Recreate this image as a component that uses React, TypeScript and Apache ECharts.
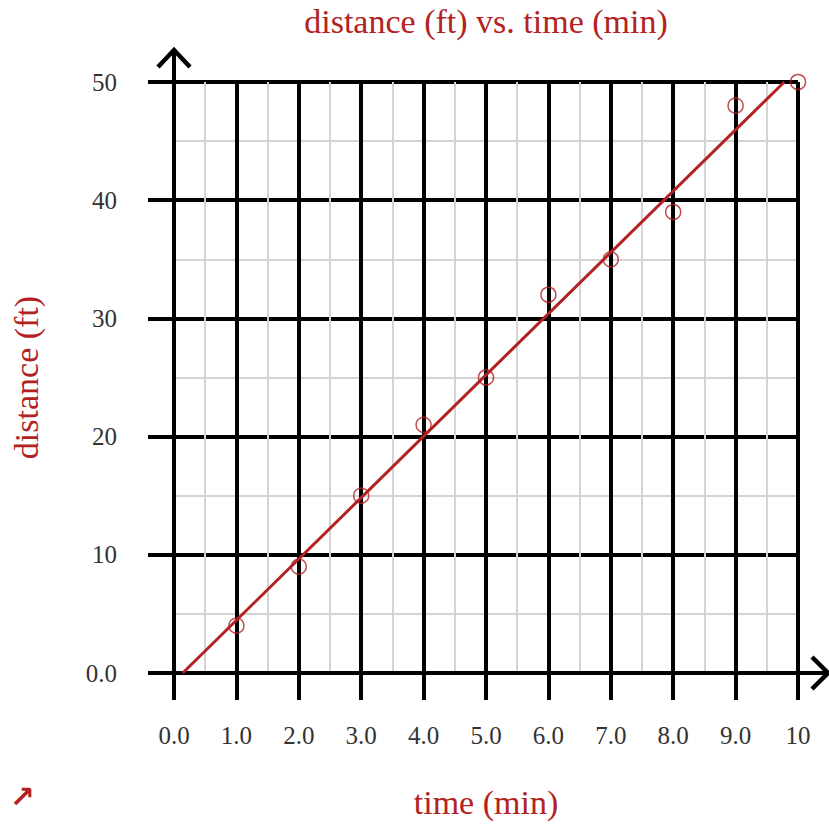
import React, { useEffect, useRef } from "react";
import * as echarts from "echarts";

const timeMin = [1, 2, 3, 4, 5, 6, 7, 8, 9, 10];
const distanceFt = [4, 9, 15, 21, 25, 32, 35, 39, 48, 50];
const fitLine = [
  [0.14, 0],
  [9.78, 50],
];
const xTickLabels = ["0.0", "1.0", "2.0", "3.0", "4.0", "5.0", "6.0", "7.0", "8.0", "9.0", "10"];
const yTickLabels = ["0.0", "10", "20", "30", "40", "50"];

const RED = "#b22222";
const FONT = "'Liberation Serif', 'Times New Roman', serif";

export default function App() {
  const ref = useRef<HTMLDivElement>(null);
  useEffect(() => {
    document.body.style.margin = "0";
    if (!ref.current) return;
    const chart = echarts.init(ref.current, undefined, { renderer: "svg" });
    const axisBlack = { color: "#000", width: 4 };
    chart.setOption({
      animation: false,
      backgroundColor: "#fff",
      grid: { left: 174, right: 31, top: 82, bottom: 151, containLabel: false },
      xAxis: {
        type: "value",
        min: 0,
        max: 10,
        interval: 1,
        name: "time (min)",
        nameLocation: "middle",
        nameGap: 112,
        nameTextStyle: { color: RED, fontSize: 34, fontFamily: FONT },
        axisLine: { show: true, lineStyle: axisBlack },
        axisTick: { show: true, length: 27, lineStyle: axisBlack },
        axisLabel: {
          margin: 50,
          color: "#333",
          fontSize: 25,
          fontFamily: FONT,
          formatter: (v: number) => xTickLabels[Math.round(v)] ?? String(v),
        },
        splitLine: { show: true, lineStyle: axisBlack },
        minorTick: { show: false, splitNumber: 2 },
        minorSplitLine: { show: true, lineStyle: { color: "#d3d3d3", width: 2 } },
      },
      yAxis: {
        type: "value",
        min: 0,
        max: 50,
        interval: 10,
        name: "distance (ft)",
        nameLocation: "middle",
        nameGap: 131,
        nameTextStyle: { color: RED, fontSize: 34, fontFamily: FONT },
        axisLine: { show: true, lineStyle: axisBlack },
        axisTick: { show: true, length: 26, lineStyle: axisBlack },
        axisLabel: {
          margin: 57,
          color: "#333",
          fontSize: 25,
          fontFamily: FONT,
          formatter: (v: number) => yTickLabels[Math.round(v / 10)] ?? String(v),
        },
        splitLine: { show: true, lineStyle: axisBlack },
        minorTick: { show: false, splitNumber: 2 },
        minorSplitLine: { show: true, lineStyle: { color: "#d3d3d3", width: 2 } },
      },
      series: [
        {
          type: "line",
          data: fitLine,
          showSymbol: false,
          symbol: "none",
          lineStyle: { color: RED, width: 3 },
          z: 3,
        },
        {
          type: "scatter",
          data: timeMin.map((t, i) => [t, distanceFt[i]]),
          symbol: "circle",
          symbolSize: 15,
          itemStyle: { color: "rgba(0,0,0,0)", borderColor: RED, borderWidth: 1.5 },
          z: 4,
        },
      ],
    });

    const o = chart.convertToPixel({ gridIndex: 0 }, [0, 0]) as number[];
    const top = chart.convertToPixel({ gridIndex: 0 }, [0, 50]) as number[];
    const right = chart.convertToPixel({ gridIndex: 0 }, [10, 0]) as number[];
    const yTip = top[1] - 32;
    const xTip = right[0] + 30;
    chart.setOption({
      graphic: [
        {
          type: "line",
          shape: { x1: o[0], y1: top[1], x2: o[0], y2: yTip },
          style: { stroke: "#000", lineWidth: 4 },
        },
        {
          type: "polyline",
          shape: { points: [[o[0] - 16, yTip + 17], [o[0], yTip], [o[0] + 16, yTip + 17]] },
          style: { stroke: "#000", lineWidth: 4.5, fill: "none" },
        },
        {
          type: "line",
          shape: { x1: right[0], y1: o[1], x2: xTip, y2: o[1] },
          style: { stroke: "#000", lineWidth: 4 },
        },
        {
          type: "polyline",
          shape: { points: [[xTip - 16, o[1] - 16], [xTip, o[1]], [xTip - 16, o[1] + 16]] },
          style: { stroke: "#000", lineWidth: 4.5, fill: "none" },
        },
        {
          type: "text",
          x: (o[0] + right[0]) / 2,
          y: 21,
          style: {
            text: "distance (ft) vs. time (min)",
            fill: RED,
            font: `34px ${FONT}`,
            textAlign: "center",
            textVerticalAlign: "middle",
          },
        },
        {
          type: "text",
          x: 22,
          y: 796,
          style: {
            text: "↗",
            fill: RED,
            font: `bold 30px 'DejaVu Sans', sans-serif`,
            textAlign: "center",
            textVerticalAlign: "middle",
          },
        },
      ],
    });
    return () => chart.dispose();
  }, []);
  return <div ref={ref} style={{ width: 829, height: 824 }} />;
}
